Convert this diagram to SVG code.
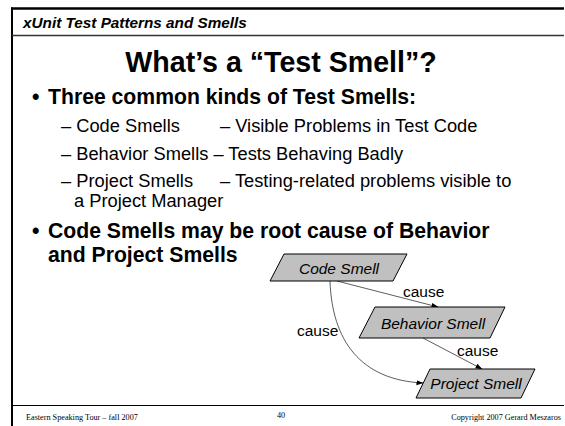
<svg xmlns="http://www.w3.org/2000/svg" width="565" height="426" viewBox="0 0 565 426">
  <style>
    .frame { stroke: #000; fill: none; }
    .hdr { font-family: "Liberation Sans", Arial, sans-serif; font-weight: bold; font-style: italic; font-size: 15.3px; fill: #000; }
    .title { font-family: "Liberation Sans", Arial, sans-serif; font-weight: bold; font-size: 28.6px; fill: #000; }
    .b1 { font-family: "Liberation Sans", Arial, sans-serif; font-weight: bold; font-size: 21.2px; fill: #000; }
    .b2 { font-family: "Liberation Sans", Arial, sans-serif; font-size: 18.3px; fill: #000; }
    .foot { font-family: "Liberation Serif", "Times New Roman", serif; font-size: 8.2px; fill: #000; }
    .box { fill: #c0c0c0; stroke: #000; stroke-width: 1; }
    .boxlbl { font-family: "Liberation Sans", Arial, sans-serif; font-style: italic; font-size: 15.5px; fill: #000; text-anchor: middle; }
    .edge { fill: none; stroke: #333; stroke-width: 0.8; }
    .elbl { font-family: "Liberation Sans", Arial, sans-serif; font-size: 15.5px; fill: #000; }
  </style>
  <defs>
    <marker id="arrow" markerWidth="7" markerHeight="6" refX="6.5" refY="3" orient="auto" markerUnits="userSpaceOnUse">
      <path d="M0,0.5 L7,3 L0,5.5 Z" fill="#000"/>
    </marker>
  </defs>

  <!-- slide frame -->
  <rect x="0" y="0" width="565" height="426" fill="#fff"/>
  <line class="frame" x1="11" y1="8.5" x2="564" y2="8.5" stroke-width="2.6"/>
  <line class="frame" x1="12" y1="7.5" x2="12" y2="426" stroke-width="2"/>
  <line x1="12" y1="35.5" x2="564" y2="35.5" stroke="#333" stroke-width="1.3"/>
  <line x1="12" y1="405.5" x2="564" y2="405.5" stroke="#000" stroke-width="1"/>

  <text class="hdr" x="23" y="28">xUnit Test Patterns and Smells</text>
  <text class="title" x="281" y="72" text-anchor="middle">What’s a “Test Smell”?</text>

  <!-- bullets -->
  <text class="b1" x="32" y="104">•</text>
  <text class="b1" x="48" y="104">Three common kinds of Test Smells:</text>
  <text class="b2" x="61" y="132">– Code Smells</text>
  <text class="b2" x="220" y="132">– Visible Problems in Test Code</text>
  <text class="b2" x="61" y="160">– Behavior Smells – Tests Behaving Badly</text>
  <text class="b2" x="61" y="187">– Project Smells</text>
  <text class="b2" x="220" y="187">– Testing-related problems visible to</text>
  <text class="b2" x="74" y="207">a Project Manager</text>
  <text class="b1" x="32" y="238">•</text>
  <text class="b1" x="48" y="238">Code Smells may be root cause of Behavior</text>
  <text class="b1" x="48" y="262">and Project Smells</text>

  <!-- connectors -->
  <g id="connectors">
    <path class="edge" d="M337,281 L438,307" marker-end="url(#arrow)"/>
    <path class="edge" d="M423,338 L482,369" marker-end="url(#arrow)"/>
    <path class="edge" d="M330,281 C332,340 360,380 423,383" marker-end="url(#arrow)"/>
    <text class="elbl" x="403" y="297">cause</text>
    <text class="elbl" x="457" y="356">cause</text>
    <text class="elbl" x="297" y="336">cause</text>
  </g>

  <g id="code-smell">
    <polygon class="box" points="284,254 407,254 393,281 270,281"/>
    <text class="boxlbl" x="339" y="274">Code Smell</text>
  </g>
  <g id="behavior-smell">
    <polygon class="box" points="375,307 505,307 490,338 359,338"/>
    <text class="boxlbl" x="433" y="329">Behavior Smell</text>
  </g>
  <g id="project-smell">
    <polygon class="box" points="430,369 535,369 521,398 416,398"/>
    <text class="boxlbl" x="476" y="389">Project Smell</text>
  </g>

  <!-- footer -->
  <text class="foot" x="26" y="420">Eastern Speaking Tour – fall 2007</text>
  <text class="foot" x="281" y="418" text-anchor="middle">40</text>
  <text class="foot" x="561" y="420" text-anchor="end">Copyright 2007 Gerard Meszaros</text>
</svg>
